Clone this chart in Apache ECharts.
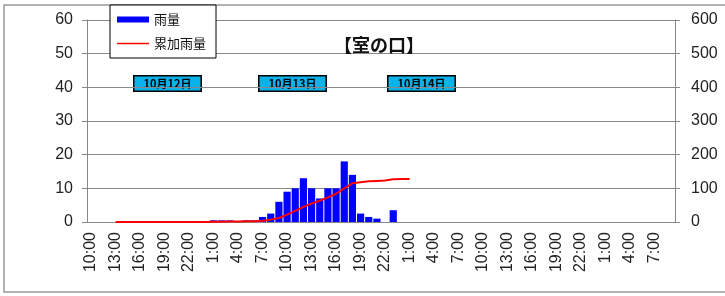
<!DOCTYPE html>
<html>
<head>
<meta charset="utf-8">
<script src="https://cdn.jsdelivr.net/npm/echarts@6/dist/echarts.min.js"></script>
<style>
  * { margin: 0; padding: 0; }
  html, body { width: 725px; height: 296px; background: #fff; }
  #chart { width: 725px; height: 296px; }
</style>
</head>
<body>
<div id="chart"></div>
<script>
// 時刻（1時間ごと、10月12日10:00〜10月15日9:00）
const hours = [
  '10:00','11:00','12:00','13:00','14:00','15:00','16:00','17:00','18:00','19:00','20:00','21:00','22:00','23:00',
  '0:00','1:00','2:00','3:00','4:00','5:00','6:00','7:00','8:00','9:00','10:00','11:00','12:00','13:00',
  '14:00','15:00','16:00','17:00','18:00','19:00','20:00','21:00','22:00','23:00',
  '0:00','1:00','2:00','3:00','4:00','5:00','6:00','7:00','8:00','9:00','10:00','11:00','12:00','13:00',
  '14:00','15:00','16:00','17:00','18:00','19:00','20:00','21:00','22:00','23:00',
  '0:00','1:00','2:00','3:00','4:00','5:00','6:00','7:00','8:00','9:00'
];

// 雨量 (mm) 左軸
const rain = [
  0, 0, 0, 0, 0, 0, 0, 0, 0, 0, 0, 0, 0, 0,
  0, 0.5, 0.5, 0.5, 0, 0.5, 0.5, 1.5, 2.5, 6, 9, 10, 13, 10,
  7, 10, 10, 18, 14, 2.5, 1.5, 1, 0, 3.5,
  null, null, null, null, null, null, null, null, null, null, null, null, null, null,
  null, null, null, null, null, null, null, null, null, null,
  null, null, null, null, null, null, null, null, null, null
];

// 累加雨量 (mm) 右軸
const total = [
  null, null, null, 0, 0, 0, 0, 0, 0, 0, 0, 0, 0, 0,
  0, 0.5, 1, 1.5, 1.5, 2, 2.5, 4, 7, 12, 22, 33, 45, 55,
  63, 73, 84, 100, 115, 118, 121, 122, 123, 127,
  128, 128, null, null, null, null, null, null, null, null, null, null, null, null,
  null, null, null, null, null, null, null, null, null, null,
  null, null, null, null, null, null, null, null, null, null
];

const dateLabels = ['10月12日', '10月13日', '10月14日'];
const datePos = [133, 258, 387];

const chart = echarts.init(document.getElementById('chart'));

const numFont = { fontFamily: 'Liberation Sans, Arial, sans-serif', fontSize: 16, color: '#222' };

chart.setOption({
  animation: false,
  textStyle: { fontFamily: 'Liberation Sans, Noto Sans CJK JP, sans-serif' },
  title: {
    text: '【室の口】',
    left: 329,
    top: 31,
    textStyle: { fontFamily: 'Noto Sans CJK JP', fontSize: 18, fontWeight: 'bold', color: '#111' }
  },
  legend: {
    left: 110,
    top: 5,
    orient: 'vertical',
    padding: [8, 10, 8, 7],
    itemGap: 11,
    itemWidth: 32,
    itemHeight: 6,
    borderColor: '#000',
    borderWidth: 1,
    backgroundColor: '#fff',
    textStyle: { fontFamily: 'Noto Sans CJK JP', fontSize: 13, color: '#111' },
    data: [
      { name: '雨量', icon: 'rect' },
      // 細い赤線（四隅の小点で枠を決めて中央に2px相当の帯を描く）
      { name: '累加雨量', icon: 'path://M0,0L0.01,0L0.01,0.01Z M0,2.3L32,2.3L32,3.7L0,3.7Z M31.99,6L32,6L32,5.99Z' }
    ]
  },
  grid: { left: 87, right: 50, top: 20, bottom: 74 },
  xAxis: {
    type: 'category',
    data: hours,
    axisLine: { lineStyle: { color: '#888' } },
    axisTick: { interval: 0, length: 5, lineStyle: { color: '#888' } },
    axisLabel: Object.assign({ interval: 2, rotate: 90, margin: 10 }, numFont)
  },
  yAxis: [
    {
      type: 'value', min: 0, max: 60, interval: 10,
      axisLine: { show: true, lineStyle: { color: '#888' } },
      axisTick: { show: true, length: 5, lineStyle: { color: '#888' } },
      axisLabel: Object.assign({ margin: 14 }, numFont),
      splitLine: { lineStyle: { color: '#888' } }
    },
    {
      type: 'value', min: 0, max: 600, interval: 100,
      axisLine: { show: true, lineStyle: { color: '#888' } },
      axisTick: { show: true, length: 5, lineStyle: { color: '#888' } },
      axisLabel: Object.assign({ margin: 16 }, numFont),
      splitLine: { show: false }
    }
  ],
  series: [
    {
      name: '雨量',
      type: 'bar',
      data: rain,
      barCategoryGap: '12%',
      itemStyle: { color: '#0000ff' }
    },
    {
      name: '累加雨量',
      type: 'line',
      yAxisIndex: 1,
      data: total,
      symbol: 'none',
      lineStyle: { color: '#ff0000', width: 2 },
      itemStyle: { color: '#ff0000' }
    }
  ],
  graphic: [
    {
      type: 'rect',
      shape: { x: 4, y: 5, width: 730, height: 287 },
      style: { fill: 'none', stroke: '#999', lineWidth: 1.5 },
      silent: true
    }
  ].concat(dateLabels.map((t, i) => ({
    type: 'text',
    left: datePos[i],
    top: 75,
    style: {
      text: t,
      font: 'bold 11px "Noto Sans CJK JP", sans-serif',
      fill: '#000',
      backgroundColor: '#0ab2ea',
      borderColor: '#000',
      borderWidth: 1.5,
      padding: [2, 9, 1, 9]
    }
  })))
});
</script>
</body>
</html>
